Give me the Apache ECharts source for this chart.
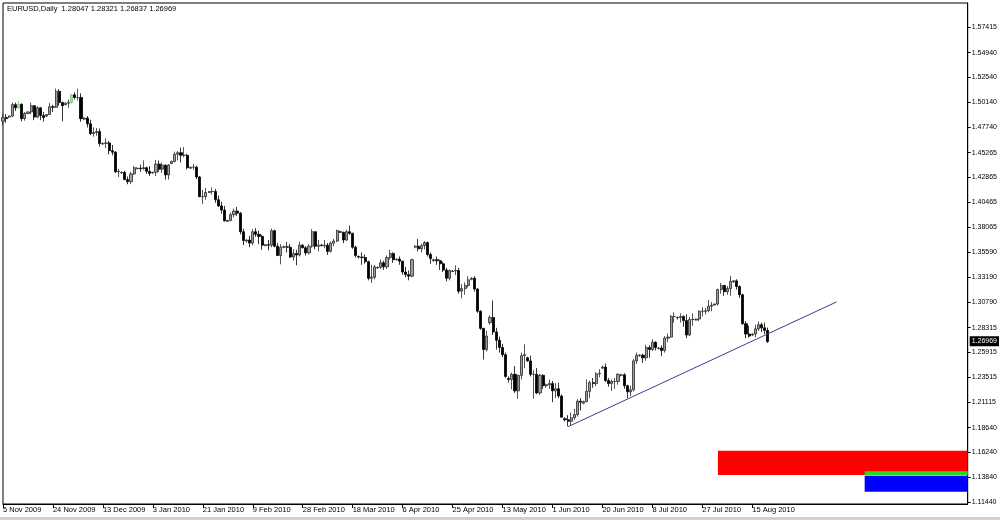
<!DOCTYPE html>
<html><head><meta charset="utf-8">
<script src="https://cdn.jsdelivr.net/npm/echarts@6/dist/echarts.min.js"></script>
<style>html,body{margin:0;padding:0;background:#fff}#c{width:1000px;height:520px}</style>
</head><body><div id="c"></div>
<script>
// Daily bars [open, high, low, close]
const nov09 = [
[1.4830,1.4905,1.4790,1.4865],[1.4865,1.4900,1.4815,1.4855],[1.4870,1.4885,1.4860,1.4880],[1.4880,1.5010,1.4870,1.4990],
[1.4990,1.5010,1.4930,1.4960],[1.4960,1.5030,1.4950,1.4995],[1.4995,1.5000,1.4830,1.4855],[1.4855,1.4920,1.4835,1.4905],
[1.4905,1.4925,1.4900,1.4920],[1.4920,1.5010,1.4900,1.4980],[1.4980,1.4985,1.4840,1.4870],[1.4870,1.4975,1.4860,1.4960],
[1.4960,1.4965,1.4840,1.4885],[1.4885,1.4920,1.4825,1.4865],[1.4880,1.4900,1.4870,1.4895],[1.4895,1.5005,1.4890,1.4970],
[1.4970,1.4990,1.4920,1.4965],[1.4965,1.5145,1.4960,1.5120],[1.5120,1.5140,1.4980,1.5010],[1.5010,1.5020,1.4830,1.4980],
[1.4990,1.5010,1.4985,1.5005],[1.5005,1.5040,1.4960,1.5010]];
const dec09 = [
[1.5010,1.5095,1.5000,1.5085],[1.5085,1.5110,1.5040,1.5060],[1.5060,1.5145,1.5030,1.5060],[1.5060,1.5100,1.4825,1.4855],
[1.4850,1.4870,1.4840,1.4860],[1.4860,1.4880,1.4770,1.4805],[1.4805,1.4845,1.4695,1.4710],[1.4710,1.4770,1.4680,1.4720],
[1.4720,1.4765,1.4690,1.4730],[1.4730,1.4760,1.4585,1.4615],[1.4610,1.4625,1.4600,1.4615],[1.4615,1.4665,1.4570,1.4620],
[1.4620,1.4640,1.4510,1.4545],[1.4545,1.4600,1.4500,1.4530],[1.4530,1.4540,1.4330,1.4340],[1.4340,1.4370,1.4290,1.4345],
[1.4330,1.4345,1.4320,1.4335],[1.4335,1.4350,1.4260,1.4265],[1.4265,1.4295,1.4220,1.4245],[1.4245,1.4340,1.4220,1.4320],
[1.4320,1.4395,1.4310,1.4380],[1.4370,1.4385,1.4365,1.4375],[1.4375,1.4410,1.4340,1.4370],[1.4370,1.4450,1.4360,1.4380],
[1.4380,1.4390,1.4320,1.4345],[1.4345,1.4395,1.4300,1.4325]];
const jan10 = [
[1.4330,1.4340,1.4320,1.4335],[1.4335,1.4455,1.4300,1.4415],[1.4415,1.4450,1.4340,1.4365],[1.4365,1.4430,1.4330,1.4405],
[1.4405,1.4410,1.4265,1.4310],[1.4310,1.4415,1.4265,1.4405],[1.4420,1.4450,1.4415,1.4440],[1.4440,1.4535,1.4430,1.4510],
[1.4510,1.4540,1.4450,1.4525],[1.4525,1.4575,1.4430,1.4500],[1.4500,1.4580,1.4480,1.4500],[1.4500,1.4515,1.4365,1.4380],
[1.4375,1.4390,1.4370,1.4385],[1.4385,1.4415,1.4360,1.4385],[1.4385,1.4400,1.4270,1.4290],[1.4290,1.4300,1.4095,1.4100],
[1.4100,1.4165,1.4030,1.4100],[1.4100,1.4185,1.4070,1.4140],[1.4140,1.4155,1.4135,1.4150],[1.4150,1.4190,1.4120,1.4150],
[1.4150,1.4175,1.4040,1.4070],[1.4070,1.4110,1.4000,1.4010],[1.4010,1.4050,1.3935,1.3970],[1.3970,1.4010,1.3860,1.3865],
[1.3860,1.3875,1.3855,1.3870]];
const feb10 = [
[1.3870,1.3945,1.3860,1.3925],[1.3925,1.3985,1.3900,1.3960],[1.3960,1.4000,1.3915,1.3940],[1.3940,1.3950,1.3735,1.3760],
[1.3760,1.3790,1.3630,1.3675],[1.3670,1.3685,1.3655,1.3680],[1.3680,1.3720,1.3610,1.3650],[1.3650,1.3785,1.3630,1.3760],
[1.3760,1.3795,1.3710,1.3735],[1.3735,1.3770,1.3640,1.3715],[1.3715,1.3730,1.3585,1.3630],[1.3625,1.3640,1.3620,1.3635],
[1.3635,1.3680,1.3580,1.3630],[1.3630,1.3790,1.3610,1.3770],[1.3770,1.3780,1.3610,1.3620],[1.3620,1.3650,1.3525,1.3530],
[1.3530,1.3640,1.3445,1.3610],[1.3610,1.3625,1.3600,1.3615],[1.3615,1.3660,1.3560,1.3610],[1.3610,1.3640,1.3505,1.3515],
[1.3515,1.3590,1.3480,1.3550],[1.3550,1.3585,1.3435,1.3535],[1.3535,1.3665,1.3520,1.3630],[1.3630,1.3640,1.3600,1.3605]];
const mar10 = [
[1.3605,1.3620,1.3530,1.3555],[1.3555,1.3640,1.3540,1.3620],[1.3620,1.3785,1.3605,1.3760],[1.3760,1.3765,1.3590,1.3620],
[1.3620,1.3680,1.3570,1.3630],[1.3630,1.3640,1.3620,1.3625],[1.3625,1.3680,1.3600,1.3630],[1.3630,1.3650,1.3535,1.3570],
[1.3570,1.3665,1.3560,1.3650],[1.3650,1.3690,1.3620,1.3670],[1.3670,1.3780,1.3660,1.3770],[1.3760,1.3770,1.3750,1.3755],
[1.3755,1.3760,1.3650,1.3680],[1.3680,1.3780,1.3670,1.3760],[1.3760,1.3820,1.3730,1.3745],[1.3745,1.3750,1.3595,1.3610],
[1.3610,1.3625,1.3510,1.3530],[1.3520,1.3530,1.3500,1.3515],[1.3515,1.3560,1.3440,1.3510],[1.3510,1.3540,1.3450,1.3470],
[1.3470,1.3480,1.3290,1.3310],[1.3310,1.3440,1.3265,1.3320],[1.3320,1.3440,1.3300,1.3420],[1.3410,1.3425,1.3400,1.3415],
[1.3415,1.3490,1.3400,1.3460],[1.3460,1.3480,1.3390,1.3420],[1.3420,1.3530,1.3400,1.3510]];
const apr10 = [
[1.3510,1.3585,1.3490,1.3550],[1.3550,1.3560,1.3460,1.3490],[1.3490,1.3500,1.3480,1.3495],[1.3495,1.3520,1.3440,1.3475],
[1.3475,1.3480,1.3345,1.3370],[1.3370,1.3420,1.3320,1.3345],[1.3345,1.3385,1.3290,1.3330],[1.3330,1.3500,1.3320,1.3490],
[1.3610,1.3630,1.3600,1.3620],[1.3620,1.3690,1.3570,1.3595],[1.3595,1.3645,1.3560,1.3625],[1.3625,1.3670,1.3590,1.3655],
[1.3655,1.3665,1.3520,1.3540],[1.3540,1.3560,1.3450,1.3500],[1.3480,1.3500,1.3470,1.3490],[1.3490,1.3520,1.3440,1.3480],
[1.3480,1.3490,1.3390,1.3450],[1.3450,1.3470,1.3370,1.3390],[1.3390,1.3410,1.3280,1.3310],[1.3310,1.3395,1.3290,1.3385],
[1.3375,1.3390,1.3370,1.3380],[1.3380,1.3435,1.3340,1.3385],[1.3385,1.3410,1.3160,1.3185],[1.3185,1.3255,1.3115,1.3210],
[1.3210,1.3270,1.3150,1.3240],[1.3240,1.3330,1.3220,1.3295]];
const may10 = [
[1.3300,1.3320,1.3290,1.3310],[1.3310,1.3330,1.3180,1.3205],[1.3205,1.3215,1.2975,1.2990],[1.2990,1.3000,1.2810,1.2825],
[1.2825,1.2830,1.2523,1.2620],[1.2620,1.2800,1.2600,1.2750],[1.2880,1.2950,1.2860,1.2930],[1.2930,1.3094,1.2760,1.2790],
[1.2790,1.2830,1.2620,1.2710],[1.2710,1.2745,1.2590,1.2640],[1.2640,1.2675,1.2545,1.2570],[1.2570,1.2590,1.2345,1.2360],
[1.2340,1.2360,1.2300,1.2330],[1.2330,1.2395,1.2235,1.2380],[1.2380,1.2460,1.2200,1.2220],[1.2220,1.2375,1.2143,1.2370],
[1.2370,1.2590,1.2330,1.2560],[1.2560,1.2670,1.2440,1.2570],[1.2540,1.2550,1.2500,1.2510],[1.2510,1.2560,1.2360,1.2380],
[1.2380,1.2420,1.2145,1.2380],[1.2380,1.2440,1.2190,1.2200],[1.2200,1.2385,1.2180,1.2370],[1.2370,1.2380,1.2240,1.2270],
[1.2270,1.2290,1.2250,1.2280],[1.2280,1.2330,1.2240,1.2290]];
const jun10 = [
[1.2290,1.2315,1.2110,1.2220],[1.2220,1.2295,1.2150,1.2240],[1.2240,1.2300,1.2150,1.2170],[1.2170,1.2185,1.1960,1.1965],
[1.1950,1.1965,1.1925,1.1940],[1.1940,1.1985,1.1876,1.1925],[1.1925,1.2010,1.1880,1.1960],[1.1960,1.2045,1.1940,1.1990],
[1.1990,1.2140,1.1970,1.2120],[1.2120,1.2150,1.2030,1.2110],[1.2100,1.2125,1.2090,1.2115],[1.2115,1.2330,1.2110,1.2215],
[1.2215,1.2320,1.2150,1.2300],[1.2300,1.2345,1.2250,1.2290],[1.2290,1.2400,1.2265,1.2385],[1.2385,1.2430,1.2350,1.2390],
[1.2440,1.2465,1.2430,1.2450],[1.2450,1.2485,1.2305,1.2320],[1.2320,1.2345,1.2260,1.2290],[1.2290,1.2330,1.2220,1.2310],
[1.2310,1.2345,1.2240,1.2310],[1.2310,1.2390,1.2280,1.2380],[1.2370,1.2385,1.2360,1.2375],[1.2375,1.2390,1.2240,1.2270],
[1.2270,1.2280,1.2150,1.2210],[1.2210,1.2270,1.2170,1.2230]];
const jul10 = [
[1.2230,1.2530,1.2215,1.2510],[1.2510,1.2590,1.2480,1.2565],[1.2560,1.2575,1.2550,1.2565],[1.2565,1.2580,1.2490,1.2540],
[1.2540,1.2665,1.2510,1.2640],[1.2640,1.2660,1.2540,1.2620],[1.2620,1.2720,1.2605,1.2690],[1.2690,1.2700,1.2610,1.2640],
[1.2630,1.2645,1.2620,1.2635],[1.2635,1.2660,1.2555,1.2610],[1.2610,1.2750,1.2590,1.2730],[1.2730,1.2775,1.2690,1.2740],
[1.2740,1.2955,1.2735,1.2940],[1.2940,1.2980,1.2880,1.2940],[1.2925,1.2940,1.2910,1.2930],[1.2930,1.2970,1.2880,1.2940],
[1.2940,1.2950,1.2840,1.2900],[1.2900,1.2960,1.2730,1.2760],[1.2760,1.2935,1.2750,1.2910],[1.2910,1.2970,1.2850,1.2910],
[1.2905,1.2920,1.2900,1.2915],[1.2915,1.3000,1.2895,1.2990],[1.2990,1.3030,1.2940,1.2990],[1.2990,1.3025,1.2960,1.2995],
[1.2995,1.3100,1.2980,1.3040],[1.3040,1.3080,1.2990,1.3050]];
const aug10 = [
[1.3050,1.3065,1.3045,1.3060],[1.3060,1.3210,1.3045,1.3200],[1.3200,1.3265,1.3160,1.3240],[1.3240,1.3245,1.3140,1.3180],
[1.3180,1.3235,1.3150,1.3210],[1.3210,1.3333,1.3140,1.3280],[1.3275,1.3290,1.3265,1.3285],[1.3285,1.3300,1.3200,1.3230],
[1.3230,1.3240,1.3120,1.3150],[1.3150,1.3160,1.2860,1.2870],[1.2870,1.2895,1.2730,1.2770],[1.2770,1.2850,1.2735,1.2750],
[1.2760,1.2775,1.2750,1.2770],[1.2770,1.2860,1.2740,1.2820],[1.2820,1.2890,1.2800,1.2860],[1.2860,1.2880,1.2790,1.2830],
[1.2830,1.2880,1.2770,1.2805],[1.28047,1.28321,1.26837,1.26969]];

const tickLabels = ['5 Nov 2009','24 Nov 2009','13 Dec 2009','3 Jan 2010','21 Jan 2010','9 Feb 2010','28 Feb 2010',
  '18 Mar 2010','6 Apr 2010','25 Apr 2010','13 May 2010','1 Jun 2010','20 Jun 2010','8 Jul 2010','27 Jul 2010','15 Aug 2010'];
const tickEvery = 16;
const priceTicks = [1.11440,1.13840,1.16240,1.18640,1.21115,1.23515,1.25915,1.28315,1.30790,1.33190,
  1.35590,1.38065,1.40465,1.42865,1.45265,1.47740,1.50140,1.52540,1.54940,1.57415];
const lastPrice = 1.26969;
const titleText = 'EURUSD,Daily  1.28047 1.28321 1.26837 1.26969';
const highlightedBars = [5, 22];
const slotCount = 310;               // bars + empty right margin slots
const trendLine = [[181, 1.1873], [267, 1.3081]];
const redZone = [[229, 1.1641], [309, 1.1405]];
const greenZone = [[276, 1.1441], [309, 1.1403]];
const blueZone = [[276, 1.1399], [309, 1.1244]];

const bars = [].concat(nov09, dec09, jan10, feb10, mar10, apr10, may10, jun10, jul10, aug10);
const categories = Array.from({length: slotCount}, (_, i) => String(i));
const candleData = bars.map((b, i) => {
  const v = [b[0], b[3], b[2], b[1]];
  return highlightedBars.includes(i)
    ? {value: v, itemStyle: {color: '#9be09b', color0: '#9be09b', borderColor: '#7cc87c', borderColor0: '#7cc87c'}}
    : v;
});
const cat = i => categories[i];
const zone = (z, color) => [{coord: [cat(z[0][0]), z[0][1]], itemStyle: {color: color, opacity: 1, borderWidth: 0}},
                            {coord: [cat(z[1][0]), z[1][1]]}];
const showTick = idx => idx % tickEvery === 0 && idx / tickEvery < tickLabels.length;
const FONT = 'Liberation Sans, Arial, sans-serif';

const chart = echarts.init(document.getElementById('c'), null, {renderer: 'canvas'});
chart.setOption({
  animation: false,
  backgroundColor: '#ffffff',
  grid: {left: 3, right: 32, top: 3, bottom: 16, show: true, borderColor: '#000', borderWidth: 1, backgroundColor: '#fff'},
  xAxis: {
    type: 'category', data: categories, boundaryGap: false,
    axisLine: {lineStyle: {color: '#000', width: 1}},
    axisTick: {interval: showTick, length: 4, lineStyle: {color: '#000'}},
    axisLabel: {interval: showTick, formatter: (v, idx) => tickLabels[Math.round(idx / tickEvery)] || '',
      align: 'left', margin: 2, fontSize: 7.5, fontFamily: FONT, color: '#000'},
    splitLine: {show: false}
  },
  yAxis: {
    type: 'value', position: 'right', min: 1.11246, max: 1.59743, scale: true,
    axisLine: {show: true, lineStyle: {color: '#000'}},
    axisTick: {show: true, customValues: priceTicks, length: 3, lineStyle: {color: '#000'}},
    axisLabel: {customValues: priceTicks, formatter: v => v.toFixed(5), margin: 4, fontSize: 7,
      fontFamily: FONT, color: '#000'},
    splitLine: {show: false}
  },
  graphic: [
    {type: 'text', left: 7, top: 5, style: {text: titleText, font: '7.5px ' + FONT, fill: '#000'}},
    {type: 'rect', left: 0, top: 517, shape: {width: 1000, height: 3}, style: {fill: '#d4d0c8'}}
  ],
  series: [
    {
      type: 'candlestick', data: candleData, barWidth: 2.6, clip: true,
      itemStyle: {color: '#9c9c9c', color0: '#000000', borderColor: '#2a2a2a', borderColor0: '#000000', borderWidth: 0.8},
      markArea: {silent: true, data: [zone(redZone, '#ff0000'), zone(greenZone, '#22dd22'), zone(blueZone, '#0000ff')]},
      markLine: {
        silent: true, symbol: ['none', 'none'],
        lineStyle: {color: 'rgba(0,0,0,0)', width: 0},
        label: {show: true, position: 'end', formatter: lastPrice.toFixed(5), backgroundColor: '#000', color: '#fff',
          fontSize: 7, fontFamily: FONT, padding: [2, 2, 1, 2], distance: 2},
        data: [{yAxis: lastPrice}]
      }
    },
    {
      type: 'line', data: trendLine.map(p => [cat(p[0]), p[1]]), symbol: 'none', silent: true,
      lineStyle: {color: '#3c3c96', width: 1}
    }
  ]
});
</script></body></html>
